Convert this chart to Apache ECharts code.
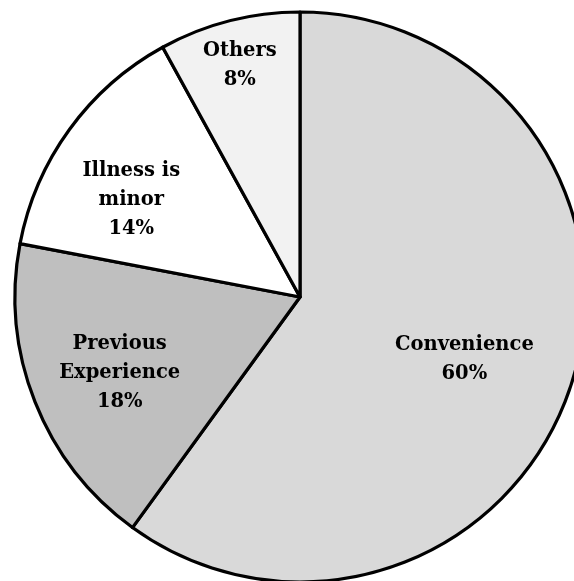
<!DOCTYPE html>
<html>
<head>
<meta charset="utf-8">
<script src="https://cdn.jsdelivr.net/npm/echarts@6/dist/echarts.min.js"></script>
<style>html,body{margin:0;padding:0;background:#fff;}#c{width:574px;height:581px;}</style>
</head>
<body>
<div id="c"></div>
<script>
const categories = ['Convenience', 'Previous\nExperience', 'Illness is\nminor', 'Others'];
const values = [60, 18, 14, 8];
const colors = ['#d9d9d9', '#bfbfbf', '#ffffff', '#f2f2f2'];
const labelOffsets = [[26, 17], [-45, 22], [-51, -12], [-24, -91]];

const chart = echarts.init(document.getElementById('c'));
chart.setOption({
  animation: false,
  series: [{
    type: 'pie',
    center: [300, 297],
    radius: [0, 285],
    startAngle: 90,
    clockwise: true,
    avoidLabelOverlap: false,
    itemStyle: { borderColor: '#000', borderWidth: 3.2 },
    label: {
      show: true,
      position: 'inside',
      formatter: p => p.name + '\n' + p.value + '%',
      fontFamily: 'DejaVu Serif',
      fontWeight: 'bold',
      fontSize: 19.5,
      lineHeight: 29,
      color: '#000',
      align: 'center'
    },
    labelLine: { show: false },
    emphasis: { disabled: true },
    data: categories.map((c, i) => ({
      name: c, value: values[i],
      itemStyle: { color: colors[i] },
      label: { offset: labelOffsets[i] }
    }))
  }]
});
</script>
</body>
</html>
